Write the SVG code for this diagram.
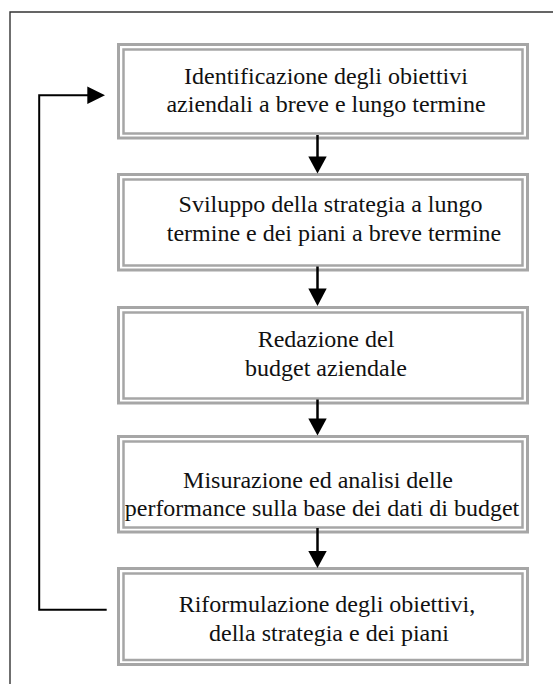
<svg xmlns="http://www.w3.org/2000/svg" width="553" height="684" viewBox="0 0 553 684">
<style>
.frame{fill:none;stroke:#333;stroke-width:1.4}
.ob{fill:#fff;stroke:#a6a6a6;stroke-width:3}
.ib{fill:none;stroke:#a6a6a6;stroke-width:2.5}
.t{font-family:"Liberation Serif","Times New Roman",serif;font-size:24px;fill:#111;text-anchor:middle}
.ln{fill:none;stroke:#000;stroke-width:2.5}
.ah{fill:#000}
</style>
<rect width="553" height="684" fill="#fff"/>
<path class="frame" d="M10,684 V12 H553"/>
<g id="n1">
<rect class="ob" x="118.5" y="44.5" width="409" height="93.5"/>
<rect class="ib" x="123.5" y="49.5" width="399" height="84"/>
<text class="t" x="326" y="83.5">Identificazione degli obiettivi</text>
<text class="t" x="326" y="111.5">aziendali a breve e lungo termine</text>
</g>
<g id="n2">
<rect class="ob" x="118.5" y="174.5" width="409" height="95.5"/>
<rect class="ib" x="123.5" y="179.5" width="399" height="86"/>
<text class="t" x="330.5" y="212">Sviluppo della strategia a lungo</text>
<text class="t" x="334" y="241">termine e dei piani a breve termine</text>
</g>
<g id="n3">
<rect class="ob" x="118.5" y="307.5" width="409" height="95.5"/>
<rect class="ib" x="123.5" y="312.5" width="399" height="86"/>
<text class="t" x="326" y="347">Redazione del</text>
<text class="t" x="326" y="376">budget aziendale</text>
</g>
<g id="n4">
<rect class="ob" x="118.5" y="436.5" width="409" height="95.5"/>
<rect class="ib" x="123.5" y="441.5" width="399" height="86"/>
<text class="t" x="318" y="487.5">Misurazione ed analisi delle</text>
<text class="t" x="322" y="515.5">performance sulla base dei dati di budget</text>
</g>
<g id="n5">
<rect class="ob" x="118.5" y="568.5" width="409" height="96"/>
<rect class="ib" x="123.5" y="573.5" width="399" height="86.5"/>
<text class="t" x="327" y="612">Riformulazione degli obiettivi,</text>
<text class="t" x="329" y="640.5">della strategia e dei piani</text>
</g>
<g id="connectors">
<line class="ln" x1="317.5" y1="135" x2="317.5" y2="158"/>
<path class="ah" d="M308.3,156.5 H326.7 L317.5,173.5 Z"/>
<line class="ln" x1="317.5" y1="266.5" x2="317.5" y2="290"/>
<path class="ah" d="M308.3,288.5 H326.7 L317.5,306 Z"/>
<line class="ln" x1="317.5" y1="399.5" x2="317.5" y2="420"/>
<path class="ah" d="M308.3,418.5 H326.7 L317.5,435.5 Z"/>
<line class="ln" x1="317.5" y1="528" x2="317.5" y2="553"/>
<path class="ah" d="M308.3,551 H326.7 L317.5,568 Z"/>
<path class="ln" style="stroke-width:2" d="M106.7,609.7 H39.2 V95.3 H89"/>
<path class="ah" d="M87.3,86.6 L105,95.3 L87.3,104 Z"/>
</g>
</svg>
